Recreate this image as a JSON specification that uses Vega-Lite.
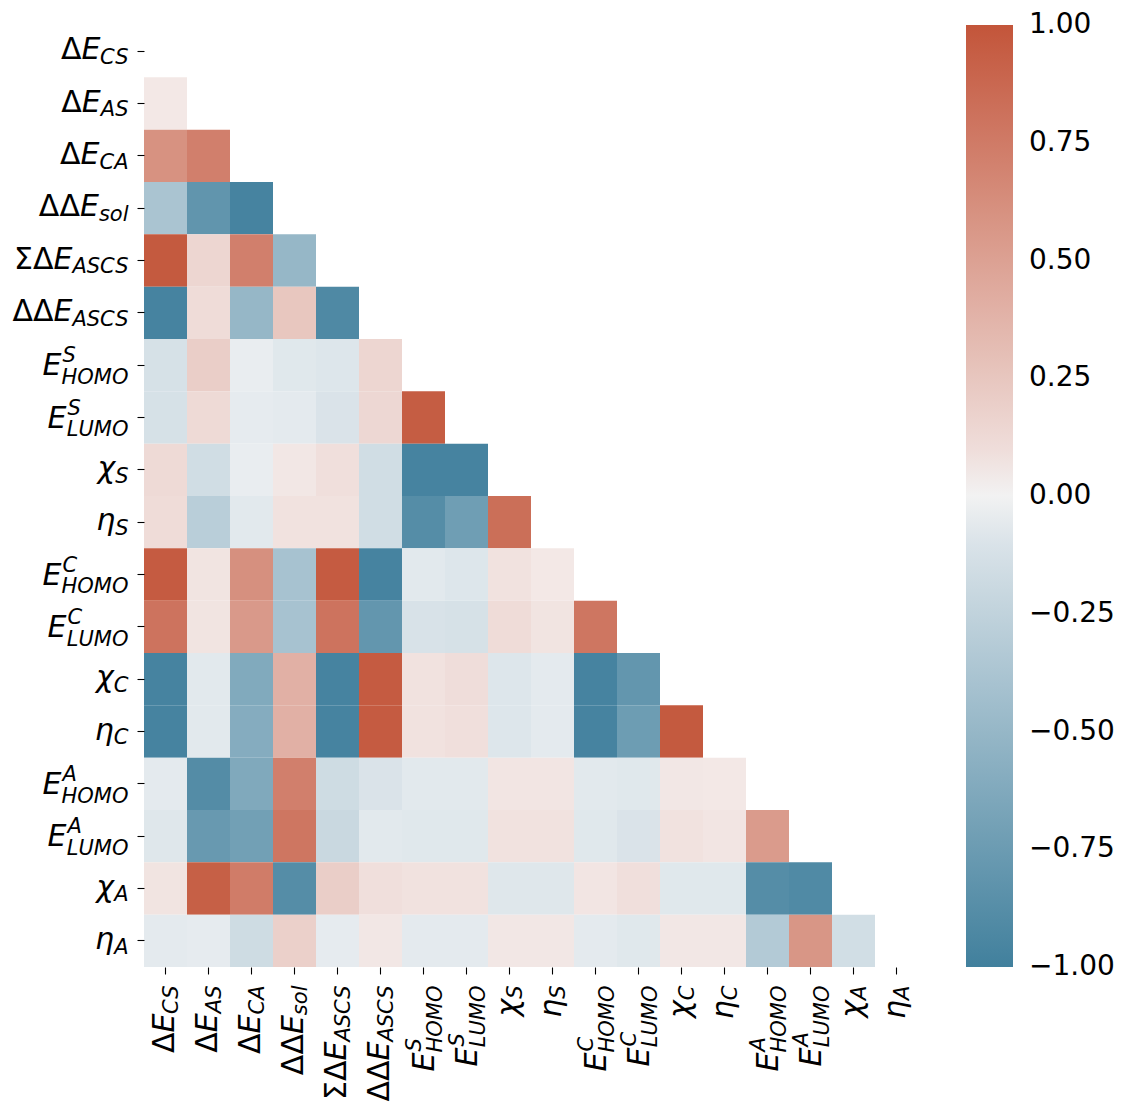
{
  "$schema": "https://vega.github.io/schema/vega-lite/v6.json",
  "width": 774,
  "height": 942,
  "autosize": "none",
  "padding": {"left": 144, "top": 25, "right": 206, "bottom": 136},
  "config": {"view": {"stroke": null}, "font": "DejaVu Sans"},
  "params": [{"name": "subw", "value": {"HOMO": 67, "LUMO": 62, "ASCS": 56, "sol": 29.6, "CA": 29, "CS": 28, "AS": 27.7, "C": 14.7, "A": 14.4, "S": 13.3}}],
  "data": {"values": [
    {"r":"Δ|E|AS|","c":"Δ|E|CS|","v":0.03},
    {"r":"Δ|E|CA|","c":"Δ|E|CS|","v":0.6},{"r":"Δ|E|CA|","c":"Δ|E|AS|","v":0.72},
    {"r":"ΔΔ|E|sol|","c":"Δ|E|CS|","v":-0.38},{"r":"ΔΔ|E|sol|","c":"Δ|E|AS|","v":-0.81},{"r":"ΔΔ|E|sol|","c":"Δ|E|CA|","v":-0.97},
    {"r":"ΣΔ|E|ASCS|","c":"Δ|E|CS|","v":0.97},{"r":"ΣΔ|E|ASCS|","c":"Δ|E|AS|","v":0.15},{"r":"ΣΔ|E|ASCS|","c":"Δ|E|CA|","v":0.72},{"r":"ΣΔ|E|ASCS|","c":"ΔΔ|E|sol|","v":-0.5},
    {"r":"ΔΔ|E|ASCS|","c":"Δ|E|CS|","v":-0.97},{"r":"ΔΔ|E|ASCS|","c":"Δ|E|AS|","v":0.11},{"r":"ΔΔ|E|ASCS|","c":"Δ|E|CA|","v":-0.5},{"r":"ΔΔ|E|ASCS|","c":"ΔΔ|E|sol|","v":0.25},{"r":"ΔΔ|E|ASCS|","c":"ΣΔ|E|ASCS|","v":-0.92},
    {"r":"|E|HOMO|S","c":"Δ|E|CS|","v":-0.12},{"r":"|E|HOMO|S","c":"Δ|E|AS|","v":0.2},{"r":"|E|HOMO|S","c":"Δ|E|CA|","v":-0.01},{"r":"|E|HOMO|S","c":"ΔΔ|E|sol|","v":-0.06},{"r":"|E|HOMO|S","c":"ΣΔ|E|ASCS|","v":-0.08},{"r":"|E|HOMO|S","c":"ΔΔ|E|ASCS|","v":0.15},
    {"r":"|E|LUMO|S","c":"Δ|E|CS|","v":-0.12},{"r":"|E|LUMO|S","c":"Δ|E|AS|","v":0.12},{"r":"|E|LUMO|S","c":"Δ|E|CA|","v":-0.03},{"r":"|E|LUMO|S","c":"ΔΔ|E|sol|","v":-0.04},{"r":"|E|LUMO|S","c":"ΣΔ|E|ASCS|","v":-0.1},{"r":"|E|LUMO|S","c":"ΔΔ|E|ASCS|","v":0.14},{"r":"|E|LUMO|S","c":"|E|HOMO|S","v":0.95},
    {"r":"|χ|S|","c":"Δ|E|CS|","v":0.12},{"r":"|χ|S|","c":"Δ|E|AS|","v":-0.16},{"r":"|χ|S|","c":"Δ|E|CA|","v":-0.01},{"r":"|χ|S|","c":"ΔΔ|E|sol|","v":0.04},{"r":"|χ|S|","c":"ΣΔ|E|ASCS|","v":0.09},{"r":"|χ|S|","c":"ΔΔ|E|ASCS|","v":-0.16},{"r":"|χ|S|","c":"|E|HOMO|S","v":-0.97},{"r":"|χ|S|","c":"|E|LUMO|S","v":-0.97},
    {"r":"|η|S|","c":"Δ|E|CS|","v":0.11},{"r":"|η|S|","c":"Δ|E|AS|","v":-0.29},{"r":"|η|S|","c":"Δ|E|CA|","v":-0.05},{"r":"|η|S|","c":"ΔΔ|E|sol|","v":0.07},{"r":"|η|S|","c":"ΣΔ|E|ASCS|","v":0.07},{"r":"|η|S|","c":"ΔΔ|E|ASCS|","v":-0.16},{"r":"|η|S|","c":"|E|HOMO|S","v":-0.88},{"r":"|η|S|","c":"|E|LUMO|S","v":-0.73},{"r":"|η|S|","c":"|χ|S|","v":0.83},
    {"r":"|E|HOMO|C","c":"Δ|E|CS|","v":0.96},{"r":"|E|HOMO|C","c":"Δ|E|AS|","v":0.06},{"r":"|E|HOMO|C","c":"Δ|E|CA|","v":0.61},{"r":"|E|HOMO|C","c":"ΔΔ|E|sol|","v":-0.4},{"r":"|E|HOMO|C","c":"ΣΔ|E|ASCS|","v":0.96},{"r":"|E|HOMO|C","c":"ΔΔ|E|ASCS|","v":-0.97},{"r":"|E|HOMO|C","c":"|E|HOMO|S","v":-0.05},{"r":"|E|HOMO|C","c":"|E|LUMO|S","v":-0.08},{"r":"|E|HOMO|C","c":"|χ|S|","v":0.07},{"r":"|E|HOMO|C","c":"|η|S|","v":0.03},
    {"r":"|E|LUMO|C","c":"Δ|E|CS|","v":0.8},{"r":"|E|LUMO|C","c":"Δ|E|AS|","v":0.06},{"r":"|E|LUMO|C","c":"Δ|E|CA|","v":0.55},{"r":"|E|LUMO|C","c":"ΔΔ|E|sol|","v":-0.4},{"r":"|E|LUMO|C","c":"ΣΔ|E|ASCS|","v":0.8},{"r":"|E|LUMO|C","c":"ΔΔ|E|ASCS|","v":-0.8},{"r":"|E|LUMO|C","c":"|E|HOMO|S","v":-0.11},{"r":"|E|LUMO|C","c":"|E|LUMO|S","v":-0.12},{"r":"|E|LUMO|C","c":"|χ|S|","v":0.11},{"r":"|E|LUMO|C","c":"|η|S|","v":0.06},{"r":"|E|LUMO|C","c":"|E|HOMO|C","v":0.78},
    {"r":"|χ|C|","c":"Δ|E|CS|","v":-0.97},{"r":"|χ|C|","c":"Δ|E|AS|","v":-0.05},{"r":"|χ|C|","c":"Δ|E|CA|","v":-0.62},{"r":"|χ|C|","c":"ΔΔ|E|sol|","v":0.4},{"r":"|χ|C|","c":"ΣΔ|E|ASCS|","v":-0.97},{"r":"|χ|C|","c":"ΔΔ|E|ASCS|","v":0.96},{"r":"|χ|C|","c":"|E|HOMO|S","v":0.07},{"r":"|χ|C|","c":"|E|LUMO|S","v":0.1},{"r":"|χ|C|","c":"|χ|S|","v":-0.08},{"r":"|χ|C|","c":"|η|S|","v":-0.04},{"r":"|χ|C|","c":"|E|HOMO|C","v":-0.97},{"r":"|χ|C|","c":"|E|LUMO|C","v":-0.8},
    {"r":"|η|C|","c":"Δ|E|CS|","v":-0.97},{"r":"|η|C|","c":"Δ|E|AS|","v":-0.05},{"r":"|η|C|","c":"Δ|E|CA|","v":-0.6},{"r":"|η|C|","c":"ΔΔ|E|sol|","v":0.4},{"r":"|η|C|","c":"ΣΔ|E|ASCS|","v":-0.97},{"r":"|η|C|","c":"ΔΔ|E|ASCS|","v":0.96},{"r":"|η|C|","c":"|E|HOMO|S","v":0.07},{"r":"|η|C|","c":"|E|LUMO|S","v":0.09},{"r":"|η|C|","c":"|χ|S|","v":-0.08},{"r":"|η|C|","c":"|η|S|","v":-0.04},{"r":"|η|C|","c":"|E|HOMO|C","v":-0.97},{"r":"|η|C|","c":"|E|LUMO|C","v":-0.74},{"r":"|η|C|","c":"|χ|C|","v":0.97},
    {"r":"|E|HOMO|A","c":"Δ|E|CS|","v":-0.04},{"r":"|E|HOMO|A","c":"Δ|E|AS|","v":-0.89},{"r":"|E|HOMO|A","c":"Δ|E|CA|","v":-0.63},{"r":"|E|HOMO|A","c":"ΔΔ|E|sol|","v":0.72},{"r":"|E|HOMO|A","c":"ΣΔ|E|ASCS|","v":-0.17},{"r":"|E|HOMO|A","c":"ΔΔ|E|ASCS|","v":-0.1},{"r":"|E|HOMO|A","c":"|E|HOMO|S","v":-0.05},{"r":"|E|HOMO|A","c":"|E|LUMO|S","v":-0.05},{"r":"|E|HOMO|A","c":"|χ|S|","v":0.05},{"r":"|E|HOMO|A","c":"|η|S|","v":0.05},{"r":"|E|HOMO|A","c":"|E|HOMO|C","v":-0.05},{"r":"|E|HOMO|A","c":"|E|LUMO|C","v":-0.06},{"r":"|E|HOMO|A","c":"|χ|C|","v":0.04},{"r":"|E|HOMO|A","c":"|η|C|","v":0.03},
    {"r":"|E|LUMO|A","c":"Δ|E|CS|","v":-0.07},{"r":"|E|LUMO|A","c":"Δ|E|AS|","v":-0.77},{"r":"|E|LUMO|A","c":"Δ|E|CA|","v":-0.71},{"r":"|E|LUMO|A","c":"ΔΔ|E|sol|","v":0.78},{"r":"|E|LUMO|A","c":"ΣΔ|E|ASCS|","v":-0.2},{"r":"|E|LUMO|A","c":"ΔΔ|E|ASCS|","v":-0.05},{"r":"|E|LUMO|A","c":"|E|HOMO|S","v":-0.06},{"r":"|E|LUMO|A","c":"|E|LUMO|S","v":-0.06},{"r":"|E|LUMO|A","c":"|χ|S|","v":0.07},{"r":"|E|LUMO|A","c":"|η|S|","v":0.07},{"r":"|E|LUMO|A","c":"|E|HOMO|C","v":-0.06},{"r":"|E|LUMO|A","c":"|E|LUMO|C","v":-0.1},{"r":"|E|LUMO|A","c":"|χ|C|","v":0.07},{"r":"|E|LUMO|A","c":"|η|C|","v":0.05},{"r":"|E|LUMO|A","c":"|E|HOMO|A","v":0.54},
    {"r":"|χ|A|","c":"Δ|E|CS|","v":0.06},{"r":"|χ|A|","c":"Δ|E|AS|","v":0.93},{"r":"|χ|A|","c":"Δ|E|CA|","v":0.74},{"r":"|χ|A|","c":"ΔΔ|E|sol|","v":-0.88},{"r":"|χ|A|","c":"ΣΔ|E|ASCS|","v":0.2},{"r":"|χ|A|","c":"ΔΔ|E|ASCS|","v":0.09},{"r":"|χ|A|","c":"|E|HOMO|S","v":0.07},{"r":"|χ|A|","c":"|E|LUMO|S","v":0.07},{"r":"|χ|A|","c":"|χ|S|","v":-0.07},{"r":"|χ|A|","c":"|η|S|","v":-0.07},{"r":"|χ|A|","c":"|E|HOMO|C","v":0.05},{"r":"|χ|A|","c":"|E|LUMO|C","v":0.09},{"r":"|χ|A|","c":"|χ|C|","v":-0.06},{"r":"|χ|A|","c":"|η|C|","v":-0.06},{"r":"|χ|A|","c":"|E|HOMO|A","v":-0.88},{"r":"|χ|A|","c":"|E|LUMO|A","v":-0.91},
    {"r":"|η|A|","c":"Δ|E|CS|","v":-0.04},{"r":"|η|A|","c":"Δ|E|AS|","v":-0.03},{"r":"|η|A|","c":"Δ|E|CA|","v":-0.17},{"r":"|η|A|","c":"ΔΔ|E|sol|","v":0.19},{"r":"|η|A|","c":"ΣΔ|E|ASCS|","v":-0.03},{"r":"|η|A|","c":"ΔΔ|E|ASCS|","v":0.04},{"r":"|η|A|","c":"|E|HOMO|S","v":-0.04},{"r":"|η|A|","c":"|E|LUMO|S","v":-0.04},{"r":"|η|A|","c":"|χ|S|","v":0.04},{"r":"|η|A|","c":"|η|S|","v":0.04},{"r":"|η|A|","c":"|E|HOMO|C","v":-0.04},{"r":"|η|A|","c":"|E|LUMO|C","v":-0.06},{"r":"|η|A|","c":"|χ|C|","v":0.04},{"r":"|η|A|","c":"|η|C|","v":0.04},{"r":"|η|A|","c":"|E|HOMO|A","v":-0.33},{"r":"|η|A|","c":"|E|LUMO|A","v":0.57},{"r":"|η|A|","c":"|χ|A|","v":-0.15}
  ]},
  "resolve": {"axis": {"x": "independent", "y": "independent"}},
  "layer": [
    {
      "mark": {"type": "rect"},
      "encoding": {
        "x": {"field": "c", "type": "nominal", "sort": null,
          "scale": {"domain": ["Δ|E|CS|","Δ|E|AS|","Δ|E|CA|","ΔΔ|E|sol|","ΣΔ|E|ASCS|","ΔΔ|E|ASCS|","|E|HOMO|S","|E|LUMO|S","|χ|S|","|η|S|","|E|HOMO|C","|E|LUMO|C","|χ|C|","|η|C|","|E|HOMO|A","|E|LUMO|A","|χ|A|","|η|A|"], "paddingInner": 0, "paddingOuter": 0},
          "axis": {"orient": "bottom", "title": null, "domain": false, "labelExpr": "split(datum.value,'|')[1]", "labelAngle": 270, "labelAlign": "right", "labelBaseline": "middle", "labelFont": "DejaVu Sans", "labelFontSize": 30, "labelFontStyle": "italic", "labelColor": "black", "labelPadding": 11, "tickSize": 7, "tickColor": "black", "tickWidth": 1.1, "labelLimit": 400,
            "encoding": {"labels": {"dx": {"value": {"expr": "-subw[split(datum.value,'|')[2]]"}}, "dy": {"value": {"expr": "split(datum.value,'|')[3] ? 1 : -1"}}}}}},
        "y": {"field": "r", "type": "nominal", "sort": null,
          "scale": {"domain": ["Δ|E|CS|","Δ|E|AS|","Δ|E|CA|","ΔΔ|E|sol|","ΣΔ|E|ASCS|","ΔΔ|E|ASCS|","|E|HOMO|S","|E|LUMO|S","|χ|S|","|η|S|","|E|HOMO|C","|E|LUMO|C","|χ|C|","|η|C|","|E|HOMO|A","|E|LUMO|A","|χ|A|","|η|A|"], "paddingInner": 0, "paddingOuter": 0},
          "axis": {"orient": "left", "title": null, "domain": false, "labelExpr": "split(datum.value,'|')[1]", "labelAngle": 0, "labelAlign": "right", "labelBaseline": "middle", "labelFont": "DejaVu Sans", "labelFontSize": 30, "labelFontStyle": "italic", "labelColor": "black", "labelPadding": 9, "tickSize": 7, "tickColor": "black", "tickWidth": 1.1, "labelLimit": 400,
            "encoding": {"labels": {"dx": {"value": {"expr": "-subw[split(datum.value,'|')[2]]"}}, "dy": {"value": {"expr": "split(datum.value,'|')[3] ? 1 : -1"}}}}}},
        "color": {"field": "v", "type": "quantitative",
          "scale": {"domain": [-1, -0.004, 0, 0.004, 1], "range": ["#41809d", "#eaeef1", "#f2f2f2", "#f4eceb", "#c3553a"], "interpolate": "rgb"},
          "legend": {"type": "gradient", "direction": "vertical", "orient": "right", "offset": 48, "title": null, "gradientLength": 942, "gradientThickness": 47, "gradientStrokeWidth": 0, "values": [-1, -0.75, -0.5, -0.25, 0, 0.25, 0.5, 0.75, 1], "format": ".2f", "labelFont": "DejaVu Sans", "labelFontSize": 28, "labelColor": "black", "labelOffset": 16, "labelBaseline": "middle", "labelOverlap": false,
            "encoding": {"labels": {"baseline": {"value": "middle"}}}}}
      }
    },
    {
      "mark": {"type": "rect", "opacity": 0},
      "encoding": {
        "x": {"field": "c", "type": "nominal", "sort": null,
          "axis": {"orient": "bottom", "title": null, "domain": false, "labelExpr": "split(datum.value,'|')[2]", "labelAngle": 270, "labelAlign": "right", "labelBaseline": "middle", "labelFont": "DejaVu Sans", "labelFontSize": 21, "labelFontStyle": "italic", "labelColor": "black", "labelPadding": 11, "tickSize": 7, "tickOpacity": 0, "labelLimit": 400,
            "encoding": {"labels": {"dy": {"value": {"expr": "split(datum.value,'|')[3] ? 12.7 : 6.7"}}}}}},
        "y": {"field": "r", "type": "nominal", "sort": null,
          "axis": {"orient": "left", "title": null, "domain": false, "labelExpr": "split(datum.value,'|')[2]", "labelAngle": 0, "labelAlign": "right", "labelBaseline": "middle", "labelFont": "DejaVu Sans", "labelFontSize": 21, "labelFontStyle": "italic", "labelColor": "black", "labelPadding": 9, "tickSize": 7, "tickOpacity": 0, "labelLimit": 400,
            "encoding": {"labels": {"dy": {"value": {"expr": "split(datum.value,'|')[3] ? 12.7 : 6.7"}}}}}}
      }
    },
    {
      "mark": {"type": "rect", "opacity": 0},
      "encoding": {
        "x": {"field": "c", "type": "nominal", "sort": null,
          "axis": {"orient": "bottom", "title": null, "domain": false, "labelExpr": "split(datum.value,'|')[3]", "labelAngle": 270, "labelAlign": "left", "labelBaseline": "middle", "labelFont": "DejaVu Sans", "labelFontSize": 21, "labelFontStyle": "italic", "labelColor": "black", "labelPadding": 11, "tickSize": 7, "tickOpacity": 0, "labelLimit": 400,
            "encoding": {"labels": {"dx": {"value": {"expr": "-subw[split(datum.value,'|')[2]] + 1"}}, "dy": {"value": {"expr": "-8.8"}}}}}},
        "y": {"field": "r", "type": "nominal", "sort": null,
          "axis": {"orient": "left", "title": null, "domain": false, "labelExpr": "split(datum.value,'|')[3]", "labelAngle": 0, "labelAlign": "left", "labelBaseline": "middle", "labelFont": "DejaVu Sans", "labelFontSize": 21, "labelFontStyle": "italic", "labelColor": "black", "labelPadding": 9, "tickSize": 7, "tickOpacity": 0, "labelLimit": 400,
            "encoding": {"labels": {"dx": {"value": {"expr": "-subw[split(datum.value,'|')[2]] + 1"}}, "dy": {"value": {"expr": "-8.8"}}}}}}
      }
    },
    {
      "mark": {"type": "rect", "opacity": 0},
      "encoding": {
        "x": {"field": "c", "type": "nominal", "sort": null,
          "axis": {"orient": "bottom", "title": null, "domain": false, "labelExpr": "split(datum.value,'|')[0]", "labelAngle": 270, "labelAlign": "right", "labelBaseline": "middle", "labelFont": "DejaVu Sans", "labelFontSize": 30, "labelFontStyle": "normal", "labelColor": "black", "labelPadding": 11, "tickSize": 7, "tickOpacity": 0, "labelLimit": 400,
            "encoding": {"labels": {"dx": {"value": {"expr": "-subw[split(datum.value,'|')[2]] - 19"}}, "dy": {"value": {"expr": "-1"}}}}}},
        "y": {"field": "r", "type": "nominal", "sort": null,
          "axis": {"orient": "left", "title": null, "domain": false, "labelExpr": "split(datum.value,'|')[0]", "labelAngle": 0, "labelAlign": "right", "labelBaseline": "middle", "labelFont": "DejaVu Sans", "labelFontSize": 30, "labelFontStyle": "normal", "labelColor": "black", "labelPadding": 9, "tickSize": 7, "tickOpacity": 0, "labelLimit": 400,
            "encoding": {"labels": {"dx": {"value": {"expr": "-subw[split(datum.value,'|')[2]] - 19"}}, "dy": {"value": {"expr": "-1"}}}}}}
      }
    }
  ]
}
